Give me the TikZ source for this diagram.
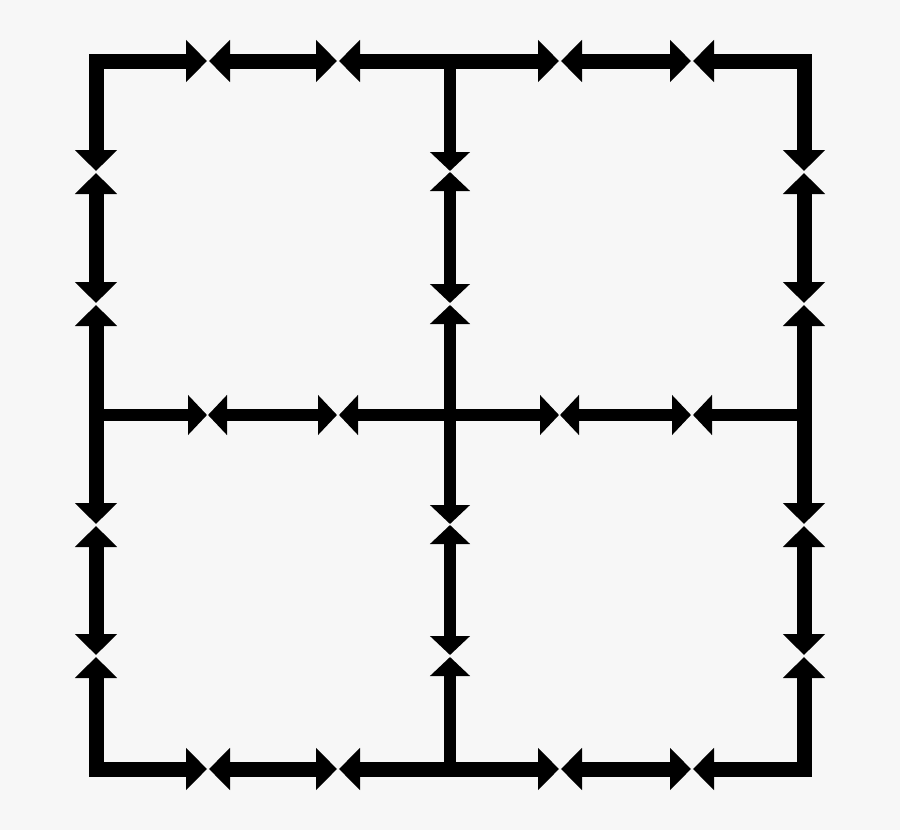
\documentclass[tikz,border=0pt]{standalone}
\usetikzlibrary{arrows.meta}
\definecolor{paper}{RGB}{247,247,247}
\tikzset{
  frame/.style={line width=15pt, shorten >=1pt, shorten <=1pt, >={Triangle[length=21pt, width=41pt]}},
  cross/.style={line width=12.5pt, shorten >=1pt, >={Triangle[length=19pt, width=39pt]}},
}
\begin{document}
\begin{tikzpicture}[x=1pt, y=-1pt]
    %Background and size
    \fill[paper] (0,0) rectangle (900,830);
    \useasboundingbox (0,0) rectangle (900,830);

    %Place junction coordinates
    \coordinate (tl) at (96,61);  \coordinate (tm) at (450,61);  \coordinate (tr) at (804,61);
    \coordinate (ml) at (96,415); \coordinate (c)  at (450,415); \coordinate (mr) at (804,415);
    \coordinate (bl) at (96,769); \coordinate (bm) at (450,769); \coordinate (br) at (804,769);

    %Place meeting points on the rows
    \coordinate (t1) at (208,61);  \coordinate (t2) at (338,61);  \coordinate (t3) at (560,61);  \coordinate (t4) at (692,61);
    \coordinate (m1) at (208,415); \coordinate (m2) at (338,415); \coordinate (m3) at (560,415); \coordinate (m4) at (692,415);
    \coordinate (b1) at (208,769); \coordinate (b2) at (338,769); \coordinate (b3) at (560,769); \coordinate (b4) at (692,769);

    %Place meeting points on the columns
    \coordinate (l1) at (96,172);  \coordinate (l2) at (96,304);  \coordinate (l3) at (96,525);  \coordinate (l4) at (96,656);
    \coordinate (v1) at (450,172); \coordinate (v2) at (450,304); \coordinate (v3) at (450,525); \coordinate (v4) at (450,656);
    \coordinate (r1) at (804,172); \coordinate (r2) at (804,304); \coordinate (r3) at (804,525); \coordinate (r4) at (804,656);

    %Draw corner arrows
    \draw[frame, <->] (t1) -- (tl) -- (l1);
    \draw[frame, <->] (t4) -- (tr) -- (r1);
    \draw[frame, <->] (b1) -- (bl) -- (l4);
    \draw[frame, <->] (b4) -- (br) -- (r4);

    %Draw double arrows on the frame
    \draw[frame, <->] (t1) -- (t2);
    \draw[frame, <->] (t2) -- (t3);
    \draw[frame, <->] (t3) -- (t4);
    \draw[frame, <->] (b1) -- (b2);
    \draw[frame, <->] (b2) -- (b3);
    \draw[frame, <->] (b3) -- (b4);
    \draw[frame, <->] (l1) -- (l2);
    \draw[frame, <->] (l2) -- (l3);
    \draw[frame, <->] (l3) -- (l4);
    \draw[frame, <->] (r1) -- (r2);
    \draw[frame, <->] (r2) -- (r3);
    \draw[frame, <->] (r3) -- (r4);

    %Draw arrows leaving the frame
    \draw[cross, ->] (tm) -- (v1);
    \draw[cross, ->] (bm) -- (v4);
    \draw[cross, ->] (ml) -- (m1);
    \draw[cross, ->] (mr) -- (m4);

    %Draw inner double arrows
    \draw[cross, <->] (v1) -- (v2);
    \draw[cross, <->] (v3) -- (v4);
    \draw[cross, <->] (m1) -- (m2);
    \draw[cross, <->] (m3) -- (m4);
    \draw[cross, <->, shorten <=1pt] (m2) -- (m3);
    \draw[cross, <->, shorten <=1pt] (v2) -- (v3);
\end{tikzpicture}
\end{document}
